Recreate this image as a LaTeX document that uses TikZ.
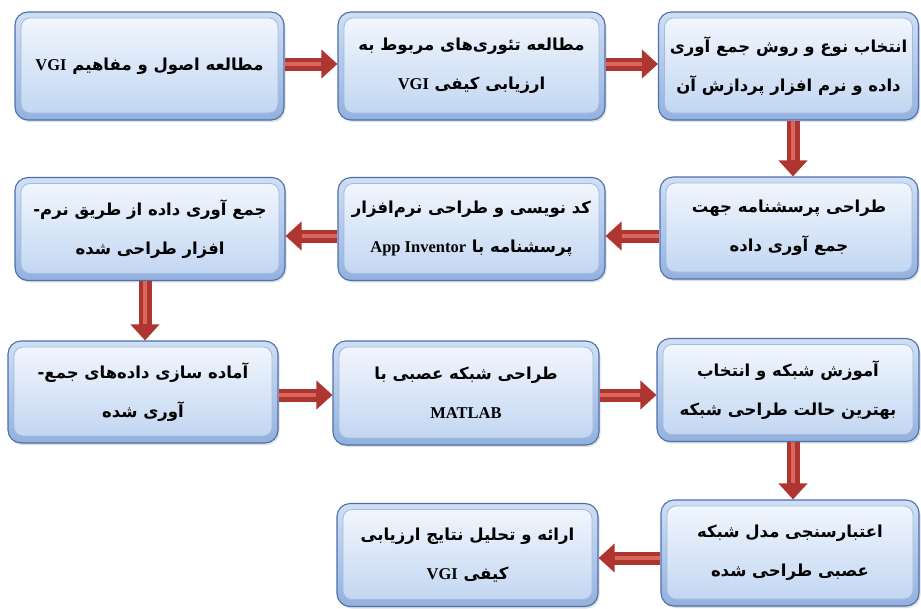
\documentclass[tikz,border=0pt]{standalone}
\usepackage{fontspec}
\usetikzlibrary{arrows.meta,shadows}
\TeXXeTstate=1
\newfontfamily\arabicfont[Script=Arabic]{DejaVu Sans}
\newfontfamily\latfont{Liberation Serif}
\newcommand{\rl}[1]{\beginR #1\endR}
\newcommand{\lat}[1]{{\latfont\bfseries\fontsize{16.5}{39}\selectfont\beginL #1\endL}}
\definecolor{boxedge}{HTML}{4C70AC}
\definecolor{bandtop}{HTML}{D0DFF4}
\definecolor{bandbot}{HTML}{93B1DE}
\definecolor{innertop}{HTML}{F4F8FE}
\definecolor{innerbot}{HTML}{BFD4F1}
\definecolor{innerline}{HTML}{A0BAE2}
\definecolor{arrred}{HTML}{AE3530}
\definecolor{arrlight}{HTML}{D9675E}
\tikzset{
  box/.style={rounded corners=13pt, draw=boxedge, line width=1.1pt,
    top color=bandtop, bottom color=bandbot,
    drop shadow={opacity=0.25, shadow xshift=1.5pt, shadow yshift=-2pt},
    inner sep=0pt, align=center,
    font=\arabicfont\bfseries\fontsize{16.5}{39}\selectfont,
    path picture={
      \draw[rounded corners=9pt, top color=innertop, bottom color=innerbot, draw=innerline, line width=0.8pt]
        ([shift={(6pt,-6pt)}]path picture bounding box.north west) rectangle
        ([shift={(-6pt,7pt)}]path picture bounding box.south east);
    }},
  redarr/.style={draw=arrred, line width=13pt, -{Triangle[width=28pt,length=16pt]},
    postaction={draw=arrlight, line width=4pt, -, shorten >=16pt}}
}
\begin{document}
\begin{tikzpicture}[x=1pt,y=-1pt]
\useasboundingbox (0,0) rectangle (921,608);
% row 1
\node[box, minimum width=269pt, minimum height=108pt] (b1) at (149.5,66)
  {\rl{مطالعه اصول و مفاهیم \lat{VGI}}};
\node[box, minimum width=267pt, minimum height=108pt] (b2) at (471.5,66)
  {\rl{مطالعه تئوری‌های مربوط به}\\\rl{ارزیابی کیفی \lat{VGI}}};
\node[box, minimum width=260pt, minimum height=108pt] (b3) at (788.5,66)
  {\rl{انتخاب نوع و روش جمع آوری}\\\rl{داده و نرم افزار پردازش آن}};
% row 2
\node[box, minimum width=270pt, minimum height=103pt] (b4) at (150,229)
  {\rl{جمع آوری داده از طریق نرم-}\\\rl{افزار طراحی شده}};
\node[box, minimum width=267pt, minimum height=103pt] (b5) at (471.5,229)
  {\rl{کد نویسی و طراحی نرم‌افزار}\\\rl{پرسشنامه با \lat{App Inventor}}};
\node[box, minimum width=258pt, minimum height=102pt] (b6) at (789,228)
  {\rl{طراحی پرسشنامه جهت}\\\rl{جمع آوری داده}};
% row 3
\node[box, minimum width=270pt, minimum height=102pt] (b7) at (143,392)
  {\rl{آماده سازی داده‌های جمع-}\\\rl{آوری شده}};
\node[box, minimum width=266pt, minimum height=104pt] (b8) at (466,393)
  {\rl{طراحی شبکه عصبی با}\\\lat{MATLAB}};
\node[box, minimum width=262pt, minimum height=103pt] (b9) at (788,390)
  {\rl{آموزش شبکه و انتخاب}\\\rl{بهترین حالت طراحی شبکه}};
% row 4
\node[box, minimum width=261pt, minimum height=103pt] (b10) at (467.5,555)
  {\rl{ارائه و تحلیل نتایج ارزیابی}\\\rl{کیفی \lat{VGI}}};
\node[box, minimum width=258pt, minimum height=106pt] (b11) at (790,553)
  {\rl{اعتبارسنجی مدل شبکه}\\\rl{عصبی طراحی شده}};
% guide coordinates
\coordinate (h1) at (0,64);
\coordinate (h2) at (0,236);
\coordinate (h3) at (0,395);
\coordinate (h4) at (0,558);
\coordinate (v1) at (793,0);
\coordinate (v2) at (145,0);
% connectors
\draw[redarr] (b1.east |- h1) -- (b2.west |- h1);
\draw[redarr] (b2.east |- h1) -- (b3.west |- h1);
\draw[redarr] (b3.south -| v1) -- (b6.north -| v1);
\draw[redarr] (b6.west |- h2) -- (b5.east |- h2);
\draw[redarr] (b5.west |- h2) -- (b4.east |- h2);
\draw[redarr] (b4.south -| v2) -- (b7.north -| v2);
\draw[redarr] (b7.east |- h3) -- (b8.west |- h3);
\draw[redarr] (b8.east |- h3) -- (b9.west |- h3);
\draw[redarr] (b9.south -| v1) -- (b11.north -| v1);
\draw[redarr] (b11.west |- h4) -- (b10.east |- h4);
\end{tikzpicture}
\end{document}
